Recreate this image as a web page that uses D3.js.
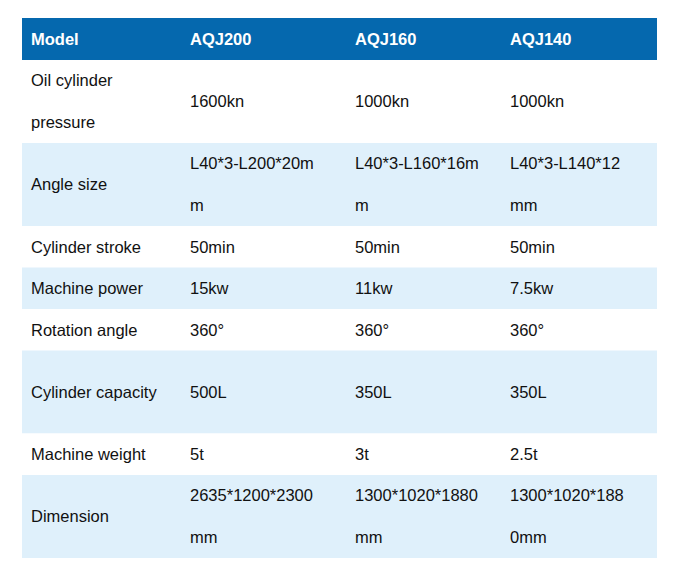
<!DOCTYPE html>
<html><head><meta charset="utf-8">
<script src="https://cdn.jsdelivr.net/npm/d3@7"></script>
<style>body{margin:0;background:#fff}</style></head>
<body><svg id="c" width="678" height="576"></svg>
<script>
const headers = ["Model","AQJ200","AQJ160","AQJ140"];
const rowLabels = [["Oil cylinder","pressure"],["Angle size"],["Cylinder stroke"],["Machine power"],["Rotation angle"],["Cylinder capacity"],["Machine weight"],["Dimension"]];
const aqj200 = [["1600kn"],["L40*3-L200*20m","m"],["50min"],["15kw"],["360°"],["500L"],["5t"],["2635*1200*2300","mm"]];
const aqj160 = [["1000kn"],["L40*3-L160*16m","m"],["50min"],["11kw"],["360°"],["350L"],["3t"],["1300*1020*1880","mm"]];
const aqj140 = [["1000kn"],["L40*3-L140*12","mm"],["50min"],["7.5kw"],["360°"],["350L"],["2.5t"],["1300*1020*188","0mm"]];
const rowSpans = [2,2,1,1,1,2,1,2];

(function(){
const svg = d3.select("#c");
const left = 22, right = 657, tableTop = 18, headH = 42, unit = 41.5;
const colX = d3.scaleOrdinal().domain([0,1,2,3]).range([31,190,355,510]);
const ends = d3.cumsum(rowSpans);
const y = d3.scaleLinear().domain([0, ends[ends.length-1]]).range([tableTop+headH, tableTop+headH+unit*ends[ends.length-1]]);
const font = "'Liberation Sans', Arial, sans-serif";

svg.append("rect").attr("x",left).attr("y",tableTop).attr("width",right-left).attr("height",headH).attr("fill","#0568ae");
svg.selectAll("text.h").data(headers).join("text").attr("class","h")
  .attr("x",(d,i)=>colX(i)).attr("y",tableTop+headH/2).attr("dy","0.35em")
  .attr("fill","#fff").attr("font-family",font).attr("font-weight","bold").attr("font-size",16.5).text(d=>d);

const cols = [rowLabels, aqj200, aqj160, aqj140];
rowLabels.forEach((_, r) => {
  const y0 = y(r===0?0:ends[r-1]), y1 = y(ends[r]);
  svg.append("rect").attr("x",left).attr("y",y0).attr("width",right-left).attr("height",y1-y0)
    .attr("fill", r%2===1 ? "#dff0fb" : "#fff");
  cols.forEach((col, c) => {
    const lines = col[r];
    const mid = (y0+y1)/2;
    lines.forEach((t, k) => {
      const ty = lines.length===1 ? mid : y0 + 20 + k*42;
      svg.append("text").attr("x",colX(c)).attr("y",ty).attr("dy","0.35em")
        .attr("fill","#111").attr("font-family",font).attr("font-size",16.5).text(t);
    });
  });
});
})();
</script></body></html>
